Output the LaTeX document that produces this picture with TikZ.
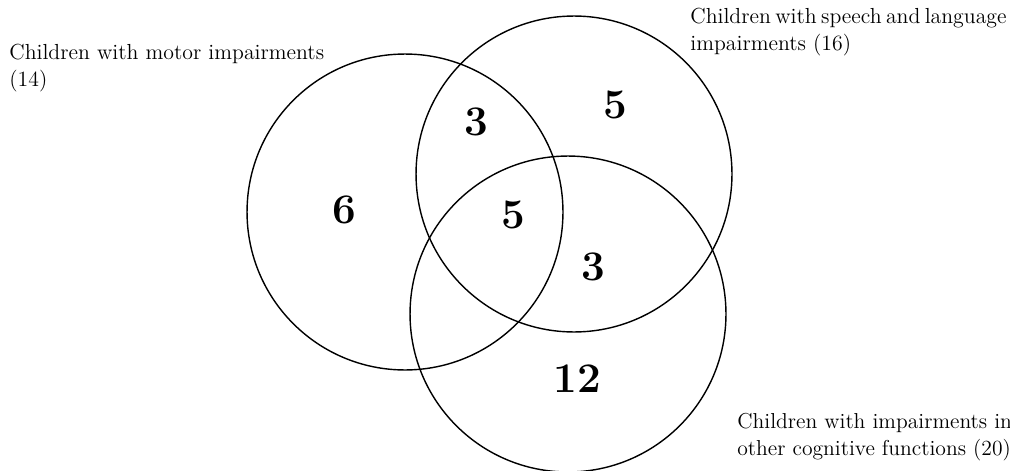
\documentclass[tikz,border=0pt]{standalone}
\usepackage{tikz}

\begin{document}
\begin{tikzpicture}[
    x=0.02cm, y=-0.02cm,
    set/.style={circle, draw, line width=0.8pt, minimum size=6.32cm, inner sep=0pt},
    count/.style={font=\fontsize{24}{28}\selectfont\bfseries},
    caption/.style={align=left, inner sep=0pt, anchor=north west,
      font=\fontsize{12.4}{15.4}\selectfont}
  ]
  \useasboundingbox (0,0) rectangle (1010,470);
  % the three sets
  \node[set] (motor)  at (405,212) {};
  \node[set] (speech) at (574,174) {};
  \node[set] (cogn)   at (568,314) {};
  % counts in each region
  \node[count] (onlyMotor)   at (344,210) {6};
  \node[count] (motorSpeech) at (476,122) {3};
  \node[count] (onlySpeech)  at (615,105) {5};
  \node[count] (allThree)    at (513,215) {5};
  \node[count] (speechCogn)  at (593,267) {3};
  \node[count] (onlyCogn)    at (577,379) {12};
  % captions
  \node[caption] (motorText)  at (9,44)   {Children with motor impairments\\(14)};
  \node[caption] (speechText) at (690,8)
    {\spaceskip=0.2em\relax Children with speech and language\\impairments (16)};
  \node[caption, font=\fontsize{12.3}{15.4}\selectfont] (cognText) at (737,413)
    {Children with impairments in\\other cognitive functions (20)};
\end{tikzpicture}
\end{document}
